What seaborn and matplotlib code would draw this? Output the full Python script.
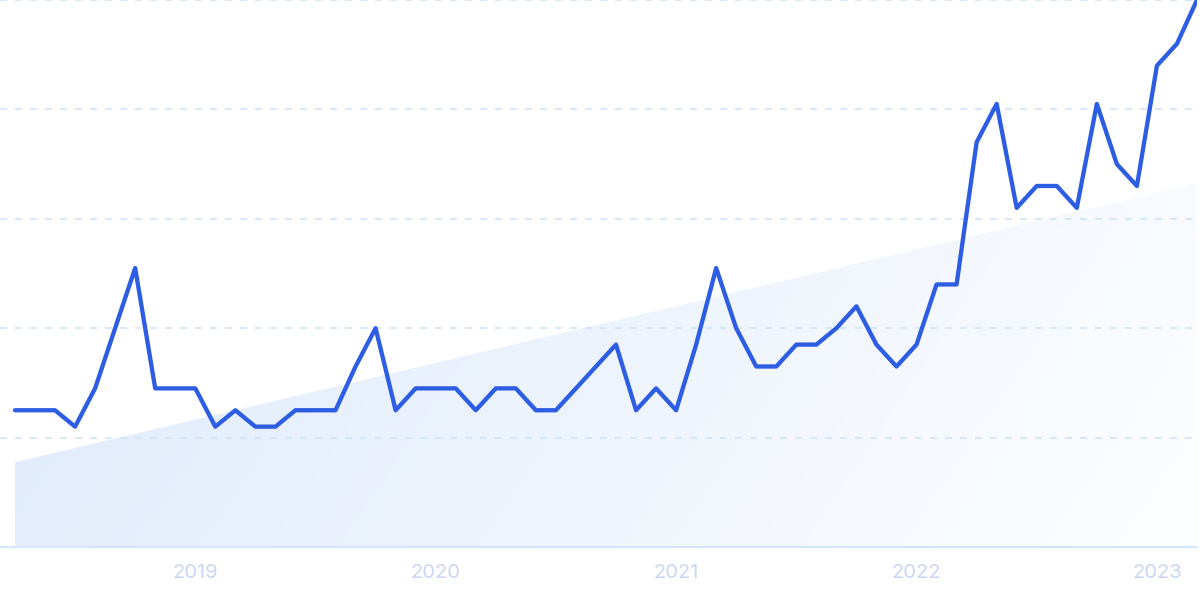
import numpy as np
import pandas as pd
import matplotlib
matplotlib.use("Agg")
import matplotlib.pyplot as plt
import seaborn as sns

# monthly interest values (0-100), Apr 2018 .. Mar 2023
months = pd.period_range("2018-04", "2023-03", freq="M")
interest = [25, 25, 25, 22, 29, 40, 51, 29, 29, 29,
            22, 25, 22, 22, 25, 25, 25, 33, 40, 25,
            29, 29, 29, 25, 29, 29, 25, 25, 29, 33,
            37, 25, 29, 25, 37, 51, 40, 33, 33, 37,
            37, 40, 44, 37, 33, 37, 48, 48, 74, 81,
            62, 66, 66, 62, 81, 70, 66, 88, 92, 100]
# straight trend band under the line (start / end value)
trend_ends = [15.5, 66.5]
grid_levels = [20, 40, 60, 80, 100]

sns.set_theme(style="white")
plt.rcParams["font.family"] = ["Inter", "DejaVu Sans"]
plt.rcParams["lines.scale_dashes"] = False

df = pd.DataFrame({"pos": np.arange(len(months)), "month": months, "value": interest})
year_rows = df[df["month"].dt.month == 1]

fig = plt.figure(figsize=(12, 5.99), dpi=100)
ax = fig.add_axes([0, 52 / 599, 1197 / 1200, 547 / 599])

# gradient filled trend band
trend_x = [df["pos"].iloc[0], df["pos"].iloc[-1]]
band = ax.fill_between(trend_x, [0, 0], trend_ends, color="none", lw=0)
gx, gy = np.meshgrid(np.linspace(0, 1, 300), np.linspace(0, 1, 100))
w = np.clip(0.88 * gx + 0.18 * (1 - gy), 0, 1)
c0 = np.array([222, 234, 251]) / 255
c1 = np.array([252, 253, 255]) / 255
img = c0[None, None, :] * (1 - w[..., None]) + c1[None, None, :] * w[..., None]
im = ax.imshow(img, extent=[trend_x[0], trend_x[1], 0, trend_ends[1]],
               origin="lower", aspect="auto", zorder=1)
path = band.get_paths()[0]
im.set_clip_path(path, transform=ax.transData)

# grid (drawn over the band)
for lv in grid_levels:
    ax.axhline(lv, color="#cfe4f8", lw=1.2, dashes=(5, 5.8), zorder=2, clip_on=False)
ax.axhline(0, color="#d2e6f8", lw=1.5, zorder=2, clip_on=False)

sns.lineplot(data=df, x="pos", y="value", ax=ax, color="#2d5de2", lw=3.1, zorder=3)

ax.set_xlim(-15 / 20.07, df["pos"].iloc[-1])
ax.set_ylim(0, 100)
ax.set_xticks(year_rows["pos"])
ax.set_xticklabels(year_rows["month"].dt.year.astype(str))
ax.set_yticks([])
ax.tick_params(axis="x", length=0, pad=12, labelsize=14.5, labelcolor="#c9d5f2")
ax.set_xlabel("")
ax.set_ylabel("")
for s in ax.spines.values():
    s.set_visible(False)

fig.savefig("out.png", dpi=100)
